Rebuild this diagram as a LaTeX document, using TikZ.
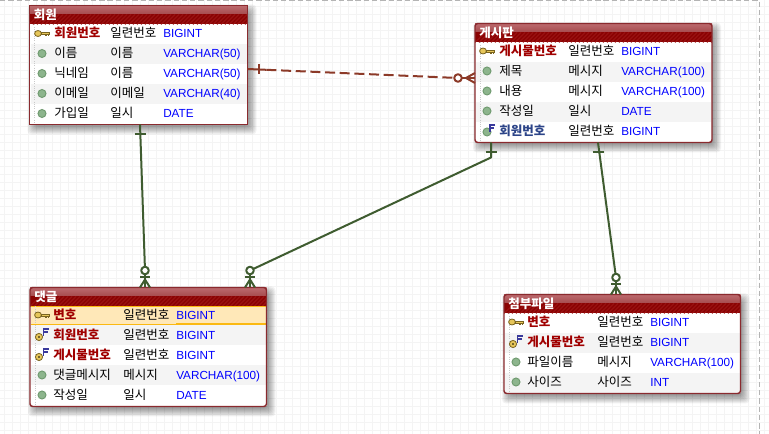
\documentclass[tikz,border=0pt]{standalone}
\usepackage{fontspec}
\usetikzlibrary{calc}
\setmainfont{Liberation Sans}
\newfontfamily\krf{Noto Sans CJK KR}
\definecolor{gridc}{HTML}{F4F4F4}
\definecolor{pageedge}{HTML}{B4B4B4}
\definecolor{tblborder}{HTML}{8A2A2E}
\definecolor{hdtop}{HTML}{BC6A6E}
\definecolor{hdmid}{HTML}{A54A4C}
\definecolor{hddark}{HTML}{8B0303}
\definecolor{hdstripe}{HTML}{9C1414}
\definecolor{zebra}{HTML}{F4F4F4}
\definecolor{pkred}{HTML}{A00000}
\definecolor{fkblue}{HTML}{2C4488}
\definecolor{dtblue}{HTML}{0000FF}
\definecolor{hiyellow}{HTML}{FFE8B8}
\definecolor{hiorange}{HTML}{FBB912}
\definecolor{relgreen}{HTML}{3F5C30}
\definecolor{relbrown}{HTML}{8C3A28}
\definecolor{dotfill}{HTML}{8DB58D}
\definecolor{dotedge}{HTML}{6F9A6F}
\definecolor{keyfill}{HTML}{E6C65A}
\definecolor{keyedge}{HTML}{7A6420}
\definecolor{fblue}{HTML}{3A3A9C}
\def\px{0.75pt}
\tikzset{
  x=0.75pt,y=-0.75pt,
  tablebox/.style={anchor=north west,inner sep=0pt,outer sep=0pt,fill=white,rectangle},
  tabletitle/.style={anchor=base west,inner sep=0pt,text=white,font=\krf\bfseries\fontsize{9.4pt}{10pt}\selectfont},
  cellpk/.style={anchor=base west,inner sep=0pt,text=pkred,font=\krf\bfseries\fontsize{9.4pt}{10pt}\selectfont},
  cellfk/.style={anchor=base west,inner sep=0pt,text=fkblue,font=\krf\bfseries\fontsize{9.4pt}{10pt}\selectfont},
  cellplain/.style={anchor=base west,inner sep=0pt,text=black,font=\krf\fontsize{9.4pt}{10pt}\selectfont},
  celltype/.style={anchor=base west,inner sep=0pt,text=dtblue,font=\fontsize{8.8pt}{10pt}\selectfont},
  relgreenline/.style={draw=relgreen,line width=1.5pt,line join=round},
  relbrownline/.style={draw=relbrown,line width=1.5pt,line join=round},
  relbrowndash/.style={relbrownline,dash pattern=on 7.5pt off 3.5pt},
}
% table: id, x0, y0, x1, y1, title
\newcommand{\erbox}[6]{%
  \foreach \e in {0,...,8}{
    \fill[black,opacity=.05,rounded corners=3pt] (#2+6-\e,#3+7-\e) rectangle (#4+1+\e,#5+2+\e);
  }
  \node[tablebox,minimum width={(#4-#2)*\px},minimum height={(#5-#3)*\px}] (#1) at (#2,#3) {};
  \shade[top color=hdtop,bottom color=hdmid] (#2,#3) rectangle (#4,#3+9);
  \fill[hddark] (#2,#3+9) rectangle (#4,#3+19);
  \begin{scope}
    \clip (#2,#3+9) rectangle (#4,#3+19);
    \pgfmathtruncatemacro{\xs}{#2}
    \pgfmathtruncatemacro{\xn}{\xs+4}
    \pgfmathtruncatemacro{\xe}{#4+12}
    \foreach \sx in {\xs,\xn,...,\xe}{
      \draw[hdstripe,line width=.6pt] (\sx,#3+19) -- (\sx+10,#3+9);
    }
  \end{scope}
  \node[tabletitle] (#1-title) at (#2+4,#3+14.5) {#6};
}
\newcommand{\erclose}[2]{%
  \draw[pageedge!70,densely dotted,line width=.7pt] ($(#1.north west)+(5,19)$) -- ($(#1.south west)+(5,-1)$);
}
\newcommand{\erframe}[2]{%
  \draw[tblborder,line width=1.1pt,rounded corners=#2] (#1.north west) rectangle (#1.south east);
}
\newcommand{\zebra}[3]{\fill[zebra] (#1+1,#3) rectangle (#2-1,#3+20);}
% id, y-centre, xname, xtype, xdt, style, name, type, dtype
\newcommand{\errow}[9]{%
  \node[#6] (#1-n) at (#3,#2+4.5) {#7};
  \node[cellplain] (#1-t) at (#4,#2+4.5) {#8};
  \node[celltype] (#1-d) at (#5,#2+4.5) {#9};
}
\newcommand{\icondot}[2]{%
  \fill[draw=dotedge,line width=.7pt,fill=dotfill] (#1,#2) circle (4);
}
\newcommand{\iconkey}[2]{%
  \fill[draw=keyedge,line width=.6pt,fill=keyfill] (#1-4,#2) ellipse (3.4 and 3);
  \fill[draw=keyedge,line width=.4pt,fill=keyfill] (#1-1,#2-1.2) rectangle (#1+7,#2+1.2);
  \fill[keyedge] (#1+3,#2+1) rectangle (#1+4.5,#2+2.6);
  \fill[keyedge] (#1+5.5,#2+1) rectangle (#1+7,#2+2.6);
}
\newcommand{\iconF}[2]{%
  \draw[fblue,line width=1.3pt] (#1+5,#2) -- (#1,#2) -- (#1,#2+7) (#1,#2+3) -- (#1+4,#2+3);
}
\newcommand{\iconfk}[2]{\icondot{#1}{#2+1}\iconF{#1+3}{#2-6}}
\newcommand{\iconpf}[2]{%
  \fill[draw=keyedge,line width=.6pt,fill=keyfill] (#1-1,#2+2) circle (3.6);
  \fill[black] (#1-1,#2+2) circle (.9);
  \iconF{#1+3.5}{#2-6}
}
\begin{document}
\begin{tikzpicture}
\useasboundingbox (0,0) rectangle (769,434);
\fill[white] (0,0) rectangle (769,434);
% grid
\foreach \gx in {4,12,...,764}{\draw[gridc,line width=.6pt] (\gx,0) -- (\gx,434);}
\foreach \gy in {6,14,...,430}{\draw[gridc,line width=.6pt] (0,\gy) -- (769,\gy);}
% page edges
\draw[pageedge,line width=.75pt,dash pattern=on 4pt off 2.2pt] (0,0.6) -- (759.5,0.6) -- (759.5,434);

% --- 회원
\erbox{memb}{29.5}{5.5}{247.5}{124.5}{회원}
\zebra{29.5}{247.5}{44}\zebra{29.5}{247.5}{84}
\erclose{memb}{}
\errow{m1}{33.5}{54}{110}{163}{cellpk}{회원번호}{일련번호}{BIGINT}
\errow{m2}{53.5}{54}{110}{163}{cellplain}{이름}{이름}{VARCHAR(50)}
\errow{m3}{73.5}{54}{110}{163}{cellplain}{닉네임}{이름}{VARCHAR(50)}
\errow{m4}{93.5}{54}{110}{163}{cellplain}{이메일}{이메일}{VARCHAR(40)}
\errow{m5}{113.5}{54}{110}{163}{cellplain}{가입일}{일시}{DATE}
\iconkey{42}{33.5}\icondot{42}{53.5}\icondot{42}{73.5}\icondot{42}{93.5}\icondot{42}{113.5}
\erframe{memb}{0pt}

% --- 게시판
\erbox{board}{475}{23.5}{712}{142.5}{게시판}
\zebra{475}{712}{62}\zebra{475}{712}{102}
\erclose{board}{}
\errow{b1}{51}{499}{568}{621}{cellpk}{게시물번호}{일련번호}{BIGINT}
\errow{b2}{71}{499}{568}{621}{cellplain}{제목}{메시지}{VARCHAR(100)}
\errow{b3}{91}{499}{568}{621}{cellplain}{내용}{메시지}{VARCHAR(100)}
\errow{b4}{111}{499}{568}{621}{cellplain}{작성일}{일시}{DATE}
\errow{b5}{131}{499}{568}{621}{cellfk}{회원번호}{일련번호}{BIGINT}
\iconkey{487}{51}\icondot{487}{71}\icondot{487}{91}\icondot{487}{111}\iconfk{487}{131}
\erframe{board}{2pt}

% --- 댓글
\erbox{reply}{30}{287.5}{266.5}{406.5}{댓글}
\fill[hiyellow] (31,306.5) rectangle (265.5,325);
\fill[hiorange] (31,306) rectangle (265.5,307);
\fill[hiorange] (31,324.3) rectangle (176,325.3);
\fill[hiorange] (176,323) rectangle (265.5,325.3);
\zebra{30}{266.5}{325.5}\zebra{30}{266.5}{365.5}
\erclose{reply}{}
\errow{r1}{315}{53}{123}{176}{cellpk}{변호}{일련번호}{BIGINT}
\errow{r2}{335}{53}{123}{176}{cellpk}{회원번호}{일련번호}{BIGINT}
\errow{r3}{355}{53}{123}{176}{cellpk}{게시물번호}{일련번호}{BIGINT}
\errow{r4}{375}{53}{123}{176}{cellplain}{댓글메시지}{메시지}{VARCHAR(100)}
\errow{r5}{395}{53}{123}{176}{cellplain}{작성일}{일시}{DATE}
\iconkey{42}{315}\iconpf{40}{335}\iconpf{40}{355}\icondot{42}{375}\icondot{42}{395}
\erframe{reply}{2pt}

% --- 첨부파일
\erbox{attach}{504}{294.5}{740.5}{393.5}{첨부파일}
\zebra{504}{740.5}{333}\zebra{504}{740.5}{373}
\erclose{attach}{}
\errow{a1}{322}{527}{597}{650}{cellpk}{변호}{일련번호}{BIGINT}
\errow{a2}{342}{527}{597}{650}{cellpk}{게시물번호}{일련번호}{BIGINT}
\errow{a3}{362}{527}{597}{650}{cellplain}{파일이름}{메시지}{VARCHAR(100)}
\errow{a4}{382}{527}{597}{650}{cellplain}{사이즈}{사이즈}{INT}
\iconkey{516}{322}\iconpf{514}{342}\icondot{516}{362}\icondot{516}{382}
\erframe{attach}{2pt}

% ports on table edges
\coordinate (pMembE) at ($(memb.north east)+(0,63.5)$);
\coordinate (pBoardW) at ($(board.north west)+(0,54.5)$);
\coordinate (pMembS) at ($(memb.south west)+(110.5,0)$);
\coordinate (pReplyA) at ($(reply.north west)+(115,0)$);
\coordinate (pReplyB) at ($(reply.north west)+(220,0)$);
\coordinate (pBoardS1) at ($(board.south west)+(16,0)$);
\coordinate (pBend) at ($(pBoardS1)+(0,15)$);
\coordinate (pBoardS2) at ($(board.south west)+(123,0)$);
\coordinate (pAttach) at ($(attach.north west)+(112,0)$);
\coordinate (cReplyA) at ($(pReplyA)+(0,-17)$);
\coordinate (cReplyB) at ($(pReplyB)+(0,-17)$);
\coordinate (cAttach) at ($(pAttach)+(0,-17)$);
\coordinate (cBoard) at ($(pBoardW)+(-17,0)$);

% relationships
\draw[relbrownline] (pMembE) -- ($(pMembE)!0.09!(cBoard)$);
\draw[relbrowndash] ($(pMembE)!0.09!(cBoard)$) -- (cBoard);
\draw[relgreenline] (pMembS) -- (cReplyA);
\draw[relgreenline] (pBoardS1) -- (pBend) -- (cReplyB);
\draw[relgreenline] (pBoardS2) -- (cAttach);
% one-ends
\draw[relbrownline] ($(pMembE)+(11,-5)$) -- ($(pMembE)+(11,5.5)$);
\draw[relgreenline] ($(pMembS)+(-5.5,10)$) -- ($(pMembS)+(5.5,10)$);
\draw[relgreenline] ($(pBoardS1)+(-5.5,9.5)$) -- ($(pBoardS1)+(5.5,9.5)$);
\draw[relgreenline] ($(pBoardS2)+(-5.5,9.5)$) -- ($(pBoardS2)+(5.5,9.5)$);
% many-ends
\foreach \p/\c in {pReplyA/cReplyA,pReplyB/cReplyB,pAttach/cAttach}{
  \draw[relgreenline,fill=white] (\c) circle (3.8);
  \draw[relgreenline] ($(\p)+(0,-13)$) -- (\p);
  \draw[relgreenline] ($(\p)+(-5,-10.5)$) -- ($(\p)+(5,-10.5)$);
  \draw[relgreenline] ($(\p)+(0,-8)$) -- ($(\p)+(-5,0)$);
  \draw[relgreenline] ($(\p)+(0,-8)$) -- ($(\p)+(5,0)$);
}
\draw[relbrownline,fill=white] (cBoard) circle (3.8);
\draw[relbrownline] ($(pBoardW)+(-13,0)$) -- (pBoardW);
\draw[relbrownline] ($(pBoardW)+(-9,0)$) -- ($(pBoardW)+(0,-5)$);
\draw[relbrownline] ($(pBoardW)+(-9,0)$) -- ($(pBoardW)+(0,5)$);
\end{tikzpicture}
\end{document}
